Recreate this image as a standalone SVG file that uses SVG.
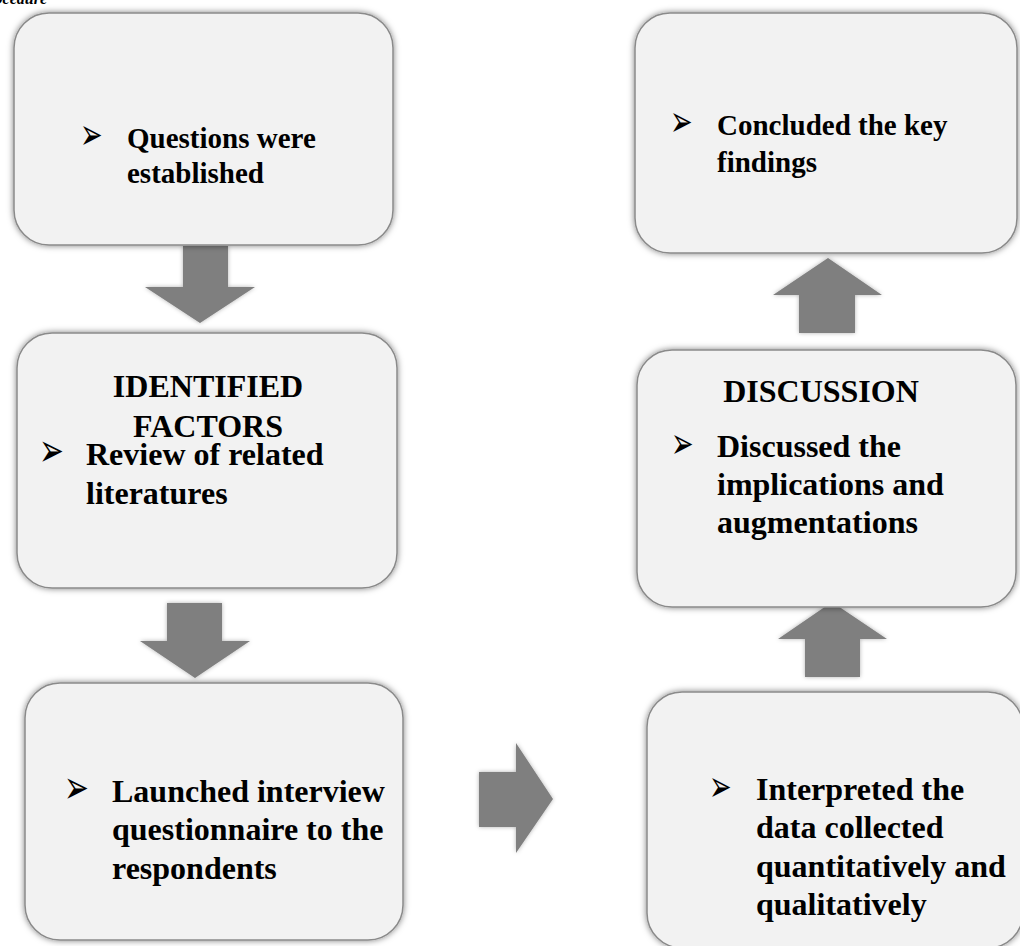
<svg xmlns="http://www.w3.org/2000/svg" width="1020" height="946" viewBox="0 0 1020 946">
<defs>
<filter id="glow" x="-10%" y="-10%" width="120%" height="120%">
<feDropShadow dx="0" dy="0" stdDeviation="3" flood-color="#000" flood-opacity="0.5"/>
</filter>
<filter id="ashadow" x="-20%" y="-20%" width="140%" height="140%">
<feDropShadow dx="0" dy="0" stdDeviation="2" flood-color="#000" flood-opacity="0.3"/>
</filter>
</defs>
<style>
.box{fill:#f2f2f2;stroke:#8a8a8a;stroke-width:1.5;filter:url(#glow)}
.arrow{fill:#7f7f7f;filter:url(#ashadow)}
.t{font-family:"Liberation Serif","Times New Roman",serif;font-weight:bold;fill:#000}
.s29{font-size:29px}
.s32{font-size:32px}
.bul{font-family:"DejaVu Sans",sans-serif;fill:#000;font-size:27px}
.cap{font-family:"Liberation Serif","Times New Roman",serif;font-weight:bold;font-style:italic;font-size:16px;fill:#000}
</style>
<rect width="1020" height="946" fill="#fff"/>
<text class="cap" x="47" y="4" text-anchor="end">Procedure</text>

<g id="connectors">
<polygon class="arrow" points="183,246 228,246 228,287 255,287 200,323 145,287 183,287"/>
<polygon class="arrow" points="167,603 222,603 222,641 250,641 195,678 140,641 167,641"/>
<polygon class="arrow" points="479,772 516,772 516,743 553,799 516,853 516,827 479,827"/>
<polygon class="arrow" points="799,333 855,333 855,295 882,295 828,258 773,295 799,295"/>
<polygon class="arrow" points="805,677 860,677 860,639 887,639 832,602 778,639 805,639"/>
</g>

<g id="node-questions">
<rect class="box" x="14" y="13" width="379" height="232" rx="35"/>
<text class="bul" transform="translate(80,149) scale(1,1.6)">➢</text>
<text class="t s29" x="127" y="148">Questions were</text>
<text class="t s29" x="127" y="183">established</text>
</g>

<g id="node-identified">
<rect class="box" x="17" y="333" width="380" height="255" rx="35"/>
<text class="t s32" x="208" y="397" text-anchor="middle">IDENTIFIED</text>
<text class="t s32" x="208" y="437" text-anchor="middle">FACTORS</text>
<text class="bul" transform="translate(39,466) scale(1.1,1.7)">➢</text>
<text class="t s32" x="86" y="465">Review of related</text>
<text class="t s32" x="86" y="504">literatures</text>
</g>

<g id="node-launched">
<rect class="box" x="25" y="683" width="378" height="257" rx="35"/>
<text class="bul" transform="translate(64,803) scale(1.1,1.7)">➢</text>
<text class="t s32" x="112" y="802">Launched interview</text>
<text class="t s32" x="112" y="840">questionnaire to the</text>
<text class="t s32" x="112" y="879">respondents</text>
</g>

<g id="node-concluded">
<rect class="box" x="635" y="13" width="382" height="240" rx="35"/>
<text class="bul" transform="translate(670,136) scale(1,1.6)">➢</text>
<text class="t s29" x="717" y="135">Concluded the key</text>
<text class="t s29" x="717" y="172">findings</text>
</g>

<g id="node-discussion">
<rect class="box" x="637" y="350" width="379" height="257" rx="35"/>
<text class="t s32" x="821" y="402" text-anchor="middle">DISCUSSION</text>
<text class="bul" transform="translate(671,458) scale(1,1.6)">➢</text>
<text class="t s32" x="717" y="457">Discussed the</text>
<text class="t s32" x="717" y="495">implications and</text>
<text class="t s32" x="717" y="533">augmentations</text>
</g>

<g id="node-interpreted">
<rect class="box" x="647" y="692" width="376" height="256" rx="35"/>
<text class="bul" transform="translate(709,801) scale(1,1.6)">➢</text>
<text class="t s32" x="756" y="800">Interpreted the</text>
<text class="t s32" x="756" y="838">data collected</text>
<text class="t s32" x="756" y="877">quantitatively and</text>
<text class="t s32" x="756" y="915">qualitatively</text>
</g>
</svg>
